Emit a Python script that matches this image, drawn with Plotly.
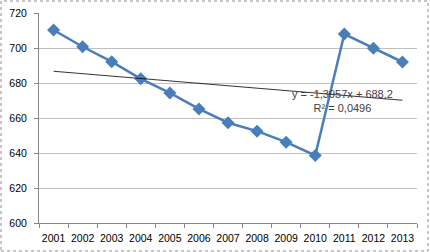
import numpy as np
import plotly.graph_objects as go

years = ["2001", "2002", "2003", "2004", "2005", "2006", "2007",
         "2008", "2009", "2010", "2011", "2012", "2013"]
values = [710.3, 700.7, 692.2, 682.4, 674.3, 665.2, 657.3,
          652.5, 646.2, 638.6, 708.0, 699.8, 692.0]
y_ticks = [600, 620, 640, 660, 680, 700, 720]
trend_label = "y = -1,3957x + 688,2<br>R² = 0,0496"

idx = np.arange(1, len(values) + 1)
slope, intercept = np.polyfit(idx, values, 1)
trend = slope * idx + intercept

fig = go.Figure()
fig.add_trace(go.Scatter(
    x=years, y=values, mode="lines+markers",
    line=dict(color="#4a7ebb", width=2.5),
    marker=dict(symbol="diamond", size=10, color="#4a7ebb"),
    showlegend=False,
))
fig.add_trace(go.Scatter(
    x=years, y=trend, mode="lines",
    line=dict(color="#000000", width=0.8),
    showlegend=False,
))

fig.add_annotation(
    x=9.95, y=669.5, xref="x", yref="y", text=trend_label,
    showarrow=False, align="center",
    font=dict(family="Liberation Sans, Arial", size=11, color="#404040"),
)

W, H = 430, 252
ml, mr, mt, mb = 39, 13, 13, 29
pw, ph = W - ml - mr, H - mt - mb
fig.add_shape(
    type="rect", xref="paper", yref="paper",
    x0=(1 - ml) / pw, x1=(W - 2 - ml) / pw,
    y0=-(mb - 1) / ph, y1=(ph + mt - 1) / ph,
    line=dict(color="#8c8c8c", width=1, dash="dot"),
)

fig.update_layout(
    width=W, height=H,
    margin=dict(l=ml, r=mr, t=mt, b=mb),
    paper_bgcolor="white", plot_bgcolor="white",
    font=dict(family="Liberation Sans, Arial", size=10.5, color="#000000"),
    xaxis=dict(
        type="category", tickson="boundaries", ticks="outside", ticklen=4,
        tickcolor="#868686", showline=True, linecolor="#868686", linewidth=1,
        showgrid=False, tickfont=dict(size=10.5), range=[-0.5, 12.5],
        tickangle=0, ticklabelstandoff=5, automargin=False,
    ),
    yaxis=dict(
        range=[600, 720], tickvals=y_ticks, ticks="outside", ticklen=4,
        tickcolor="#868686", showline=True, linecolor="#868686", linewidth=1,
        showgrid=True, gridcolor="#bfbfbf", gridwidth=1, zeroline=False,
        tickfont=dict(size=10.5), ticklabelstandoff=5, automargin=False,
    ),
)

fig.write_html("out.html")
